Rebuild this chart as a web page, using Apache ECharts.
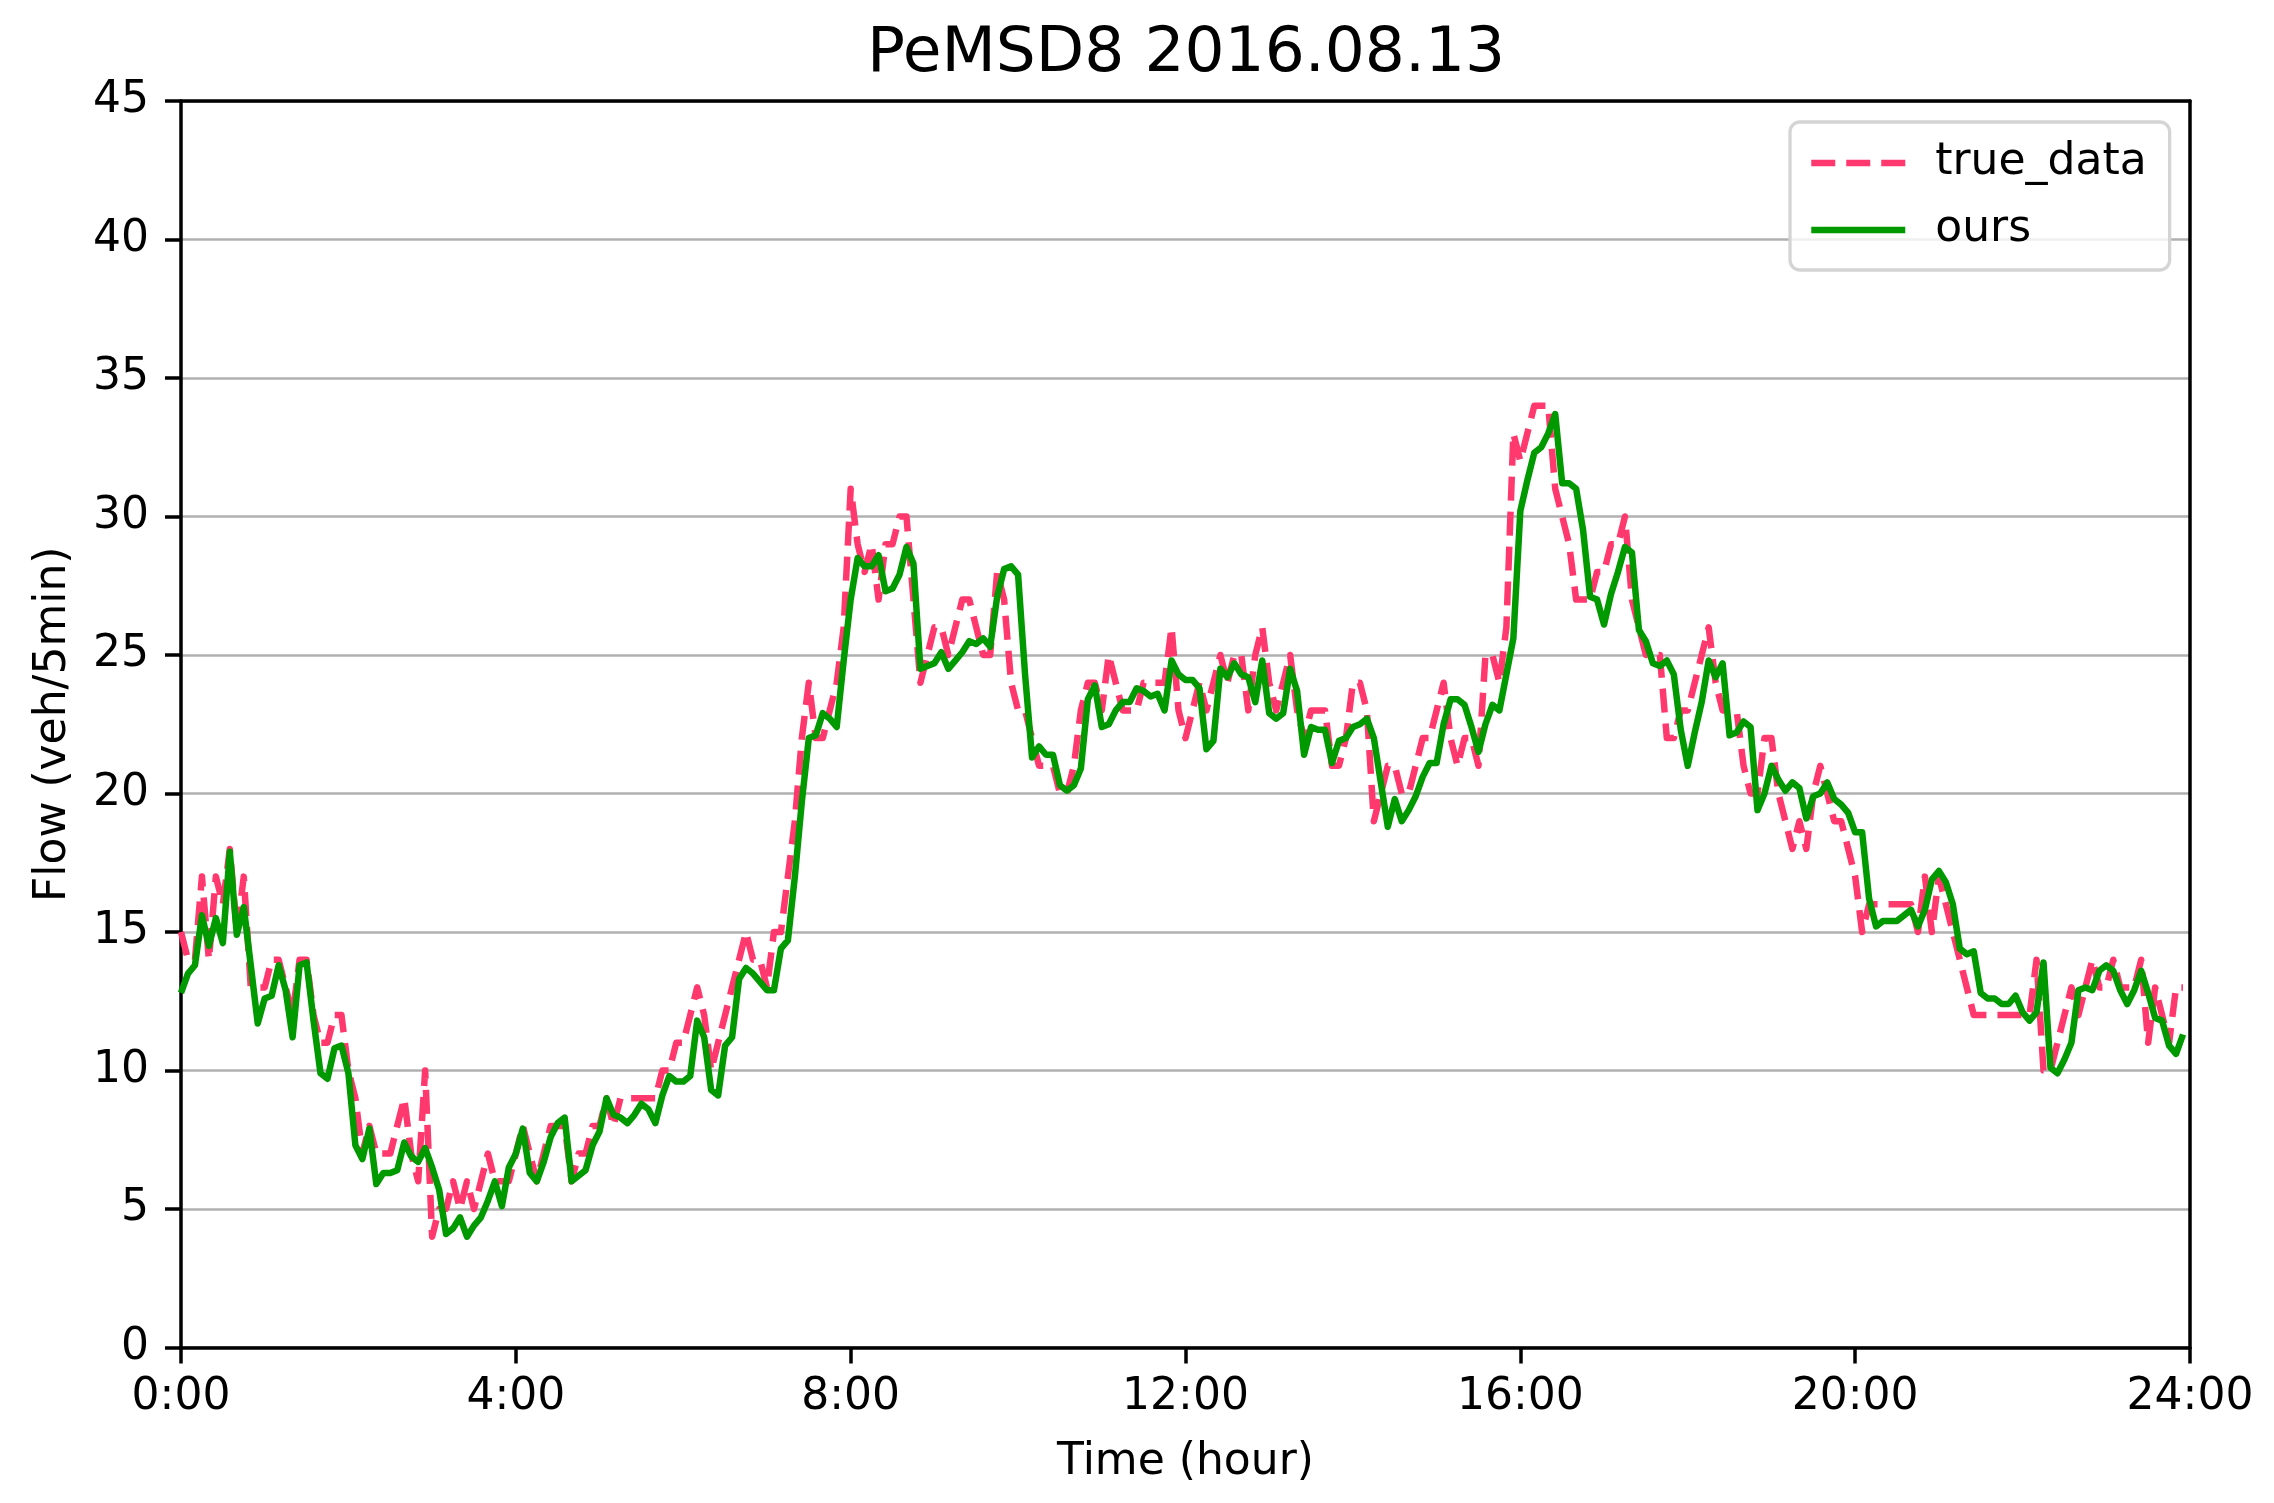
<!DOCTYPE html>
<html>
<head>
<meta charset="utf-8">
<script src="https://cdn.jsdelivr.net/npm/echarts@6/dist/echarts.min.js"></script>
<style>
html,body{margin:0;padding:0;background:#fff;}
#chart{width:2274px;height:1503px;}
</style>
</head>
<body>
<div id="chart"></div>
<script>
// 5-minute samples over one day (288 points)
const TRUE_DATA = [
15,14,14,17,14,17,16,18,15,17,
13,13,13,14,14,13,12,14,14,12,
11,11,12,12,10,9,7,8,7,7,
7,8,9,7,6,10,4,5,5,6,
5,6,5,6,7,6,6,6,7,8,
7,6,7,8,8,8,6,7,7,8,
8,9,8,9,9,9,9,9,9,10,
10,11,11,12,13,12,10,11,12,13,
14,15,14,14,13,15,15,17,19,22,
24,22,22,23,24,26,31,29,28,29,
27,29,29,30,30,27,24,25,26,26,
25,26,27,27,26,25,25,28,27,24,
23,23,22,21,21,21,20,20,21,23,
24,24,23,25,24,23,23,23,24,24,
24,24,26,23,22,23,24,23,24,25,
24,25,25,23,25,26,24,23,24,25,
23,22,23,23,23,21,21,22,24,24,
23,19,20,21,21,20,20,21,22,22,
23,24,22,21,22,22,21,25,25,24,
26,33,32,33,34,34,34,31,30,29,
27,27,27,28,28,29,29,30,27,26,
25,25,25,22,22,23,23,24,25,26,
24,23,23,23,21,20,20,22,22,20,
19,18,19,18,20,21,20,19,19,18,
17,15,16,16,16,16,16,16,16,15,
17,15,17,16,15,14,13,12,12,12,
12,12,12,12,12,12,14,10,10,11,
12,13,12,13,14,13,13,14,13,13,
13,14,11,13,12,11,13,13
];
const OURS = [
12.8,13.5,13.8,15.6,14.5,15.5,14.6,17.9,14.9,15.9,
13.8,11.7,12.6,12.7,13.8,12.9,11.2,13.8,13.9,11.8,
9.9,9.7,10.8,10.9,9.9,7.3,6.8,7.9,5.9,6.3,
6.3,6.4,7.4,6.9,6.7,7.2,6.5,5.7,4.1,4.3,
4.7,4.0,4.4,4.7,5.3,6.0,5.1,6.5,7.0,7.9,
6.3,6.0,6.7,7.6,8.1,8.3,6.0,6.2,6.4,7.3,
7.8,9.0,8.4,8.3,8.1,8.4,8.8,8.6,8.1,9.1,
9.8,9.6,9.6,9.8,11.8,11.2,9.3,9.1,10.9,11.2,
13.3,13.7,13.5,13.2,12.9,12.9,14.4,14.7,17.0,19.7,
22.0,22.1,22.9,22.7,22.4,24.8,27.0,28.5,28.2,28.2,
28.6,27.3,27.4,27.9,28.9,28.3,24.5,24.6,24.7,25.1,
24.5,24.8,25.1,25.5,25.4,25.6,25.3,27.1,28.1,28.2,
27.9,24.3,21.3,21.7,21.4,21.4,20.3,20.1,20.3,20.9,
23.4,23.9,22.4,22.5,23.0,23.3,23.3,23.8,23.7,23.5,
23.6,23.0,24.8,24.3,24.1,24.1,23.8,21.6,21.9,24.5,
24.2,24.7,24.3,24.2,23.3,24.8,22.9,22.7,22.9,24.5,
23.7,21.4,22.4,22.3,22.3,21.1,21.9,22.0,22.4,22.5,
22.7,22.0,20.4,18.8,19.8,19.0,19.4,19.9,20.6,21.1,
21.1,22.5,23.4,23.4,23.2,22.4,21.5,22.5,23.2,23.0,
24.3,25.6,30.2,31.3,32.3,32.5,33.0,33.7,31.2,31.2,
31.0,29.5,27.1,27.0,26.1,27.2,28.0,28.9,28.7,25.9,
25.5,24.7,24.6,24.8,24.3,22.3,21.0,22.2,23.3,24.8,
24.2,24.7,22.1,22.2,22.6,22.4,19.4,20.0,21.0,20.5,
20.1,20.4,20.2,19.1,19.9,20.0,20.4,19.8,19.6,19.3,
18.6,18.6,16.2,15.2,15.4,15.4,15.4,15.6,15.8,15.2,
15.8,16.9,17.2,16.8,16.0,14.4,14.2,14.3,12.8,12.6,
12.6,12.4,12.4,12.7,12.1,11.8,12.1,13.9,10.1,9.9,
10.4,11.0,12.9,13.0,12.9,13.6,13.8,13.6,12.9,12.4,
12.9,13.6,12.8,11.9,11.8,10.9,10.6,11.3
];
const X_TICK_LABELS = ['0:00','4:00','8:00','12:00','16:00','20:00','24:00'];
const SERIES_NAMES = ['true_data','ours'];
const TITLE = 'PeMSD8 2016.08.13';
const X_NAME = 'Time (hour)';
const Y_NAME = 'Flow (veh/5min)';

const FONT = 'DejaVu Sans';
const toPairs = arr => arr.map((v, i) => [i * 5 / 60, v]);
const SPINE = {color: '#000', width: 3.5};

const chart = echarts.init(document.getElementById('chart'), null, {renderer: 'canvas'});
chart.setOption({
  animation: false,
  backgroundColor: '#ffffff',
  textStyle: {fontFamily: FONT},
  title: {
    text: TITLE,
    left: 1186,
    top: 23,
    textAlign: 'center',
    padding: 0,
    textStyle: {fontFamily: FONT, fontSize: 63, fontWeight: 'normal', color: '#000'}
  },
  grid: {left: 181, right: 84, top: 101, bottom: 155.5, show: false},
  legend: {
    orient: 'vertical',
    left: 1790, top: 122,
    padding: [19, 23, 18, 18],
    itemWidth: 94, itemHeight: 44, itemGap: 23,
    backgroundColor: 'rgba(255,255,255,0.8)',
    borderColor: '#d4d4d4', borderWidth: 3.3, borderRadius: 10,
    textStyle: {fontFamily: FONT, fontSize: 44, color: '#000', padding: [0, 0, 0, 25]},
    itemStyle: {opacity: 0, borderWidth: 0},
    lineStyle: {width: 6.5},
    data: SERIES_NAMES
  },
  xAxis: [{
    type: 'value', min: 0, max: 24, interval: 4, z: 5,
    name: X_NAME, nameLocation: 'middle', nameGap: 93,
    nameTextStyle: {fontFamily: FONT, fontSize: 44, color: '#000'},
    axisLine: {show: true, onZero: false, lineStyle: SPINE},
    axisTick: {show: true, length: 16, lineStyle: SPINE},
    axisLabel: {
      margin: 28, fontFamily: FONT, fontSize: 44, color: '#000',
      formatter: v => X_TICK_LABELS[Math.round(v / 4)]
    },
    splitLine: {show: false}
  }, {
    type: 'value', min: 0, max: 24, interval: 4, position: 'top', z: 5,
    axisLine: {show: true, onZero: false, lineStyle: SPINE},
    axisTick: {show: false}, axisLabel: {show: false}, splitLine: {show: false}
  }],
  yAxis: [{
    type: 'value', min: 0, max: 45, interval: 5,
    name: Y_NAME, nameLocation: 'middle', nameGap: 105,
    nameTextStyle: {fontFamily: FONT, fontSize: 44, color: '#000'},
    axisLine: {show: true, lineStyle: SPINE},
    axisTick: {show: true, length: 16, lineStyle: SPINE},
    axisLabel: {margin: 32, fontFamily: FONT, fontSize: 44, color: '#000'},
    splitLine: {show: true, lineStyle: {color: '#b0b0b0', width: 2.5}}
  }, {
    type: 'value', min: 0, max: 45, interval: 5, position: 'right', z: 5,
    axisLine: {show: true, onZero: false, lineStyle: SPINE},
    axisTick: {show: false}, axisLabel: {show: false}, splitLine: {show: false}
  }],
  series: [
    {
      name: SERIES_NAMES[0], type: 'line', data: toPairs(TRUE_DATA),
      xAxisIndex: 0, yAxisIndex: 0,
      symbol: 'none', smooth: false, z: 2,
      itemStyle: {color: '#ff386e'},
      lineStyle: {color: '#ff386e', width: 6.5, type: [24, 11], cap: 'butt', join: 'round'}
    },
    {
      name: SERIES_NAMES[1], type: 'line', data: toPairs(OURS),
      xAxisIndex: 0, yAxisIndex: 0,
      symbol: 'none', smooth: false, z: 3,
      itemStyle: {color: '#009900'},
      lineStyle: {color: '#009900', width: 6.5, type: 'solid', join: 'round'}
    }
  ]
});
</script>
</body>
</html>
